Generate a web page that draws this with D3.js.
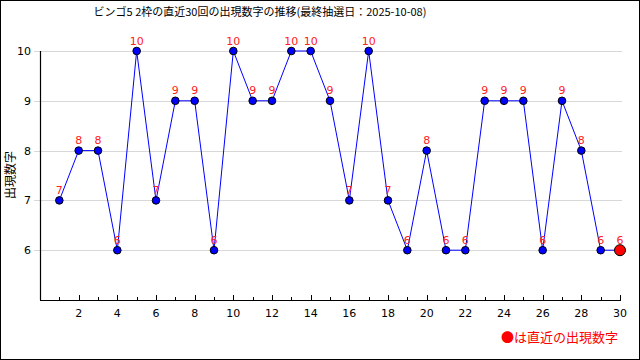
<!DOCTYPE html>
<meta charset="utf-8">
<title>bingo5</title>
<script src="https://cdn.jsdelivr.net/npm/d3@7"></script>
<style>
body { margin: 0; background: #fff; }
text { font-family: "DejaVu Sans", sans-serif; }
.jp { font-family: "Noto Sans CJK JP", sans-serif; }
</style>
<body>
<script>

// data
var draws = d3.range(1, 31);
var values = [7, 8, 8, 6, 10, 7, 9, 9, 6, 10, 9, 9, 10, 10, 9, 7, 10, 7, 6, 8, 6, 6, 9, 9, 9, 6, 9, 8, 6, 6];
var yTicks = [6, 7, 8, 9, 10];
var xTicks = [2, 4, 6, 8, 10, 12, 14, 16, 18, 20, 22, 24, 26, 28, 30];
var title = "ビンゴ5 2枠の直近30回の出現数字の推移(最終抽選日：2025-10-08)";

var width = 640, height = 360;

var svg = d3.select("body").append("svg")
    .attr("width", width)
    .attr("height", height);

// frame
svg.append("rect")
    .attr("x", 0.5).attr("y", 0.5)
    .attr("width", width - 1).attr("height", height - 1)
    .attr("fill", "#fff").attr("stroke", "#000");

var x = d3.scaleLinear().domain([0, 30]).range([40, 620]);
var y = d3.scaleLinear().domain([5, 10]).range([300, 51]);

// grid
svg.append("g").selectAll("line")
    .data(yTicks)
  .enter().append("line")
    .attr("x1", 34).attr("x2", 622)
    .attr("y1", function(d){ return Math.round(y(d)) + 0.5; })
    .attr("y2", function(d){ return Math.round(y(d)) + 0.5; })
    .attr("stroke", "#d8d8d8");

// y labels
svg.append("g").selectAll("text")
    .data(yTicks)
  .enter().append("text")
    .attr("x", 31)
    .attr("y", function(d){ return y(d) + 4; })
    .attr("text-anchor", "end")
    .attr("font-size", "11px")
    .text(function(d){ return d; });

// axes lines
svg.append("line")
    .attr("x1", 40.5).attr("x2", 40.5)
    .attr("y1", 51).attr("y2", 300)
    .attr("stroke", "#000").attr("stroke-width", 1.2);
svg.append("line")
    .attr("x1", 40).attr("x2", 621)
    .attr("y1", 300.5).attr("y2", 300.5)
    .attr("stroke", "#000").attr("stroke-width", 1.2);

// x ticks
svg.append("g").selectAll("line")
    .data(draws)
  .enter().append("line")
    .attr("x1", function(d){ return Math.round(x(d)) + 0.5; })
    .attr("x2", function(d){ return Math.round(x(d)) + 0.5; })
    .attr("y1", function(d){ return d % 2 == 0 ? 295 : 297; })
    .attr("y2", 300)
    .attr("stroke", "#000");

svg.append("g").selectAll("text")
    .data(xTicks)
  .enter().append("text")
    .attr("x", function(d){ return x(d); })
    .attr("y", 317)
    .attr("text-anchor", "middle")
    .attr("font-size", "11px")
    .text(function(d){ return d; });

// y title
svg.append("text")
    .attr("class", "jp")
    .attr("transform", "translate(15,175) rotate(-90)")
    .attr("text-anchor", "middle")
    .attr("font-size", "12px")
    .text("出現数字");

// title
svg.append("text")
    .attr("class", "jp")
    .attr("x", 260)
    .attr("y", 16)
    .attr("text-anchor", "middle")
    .attr("font-size", "11px")
    .text(title);

// line
var line = d3.line()
    .x(function(d, i){ return x(draws[i]); })
    .y(function(d){ return y(d); });

svg.append("path")
    .datum(values)
    .attr("d", line)
    .attr("fill", "none")
    .attr("stroke", "#0000ff")
    .attr("stroke-width", 1);

// value labels
svg.append("g").selectAll("text")
    .data(values)
  .enter().append("text")
    .attr("x", function(d, i){ return x(draws[i]); })
    .attr("y", function(d){ return y(d) - 6.5; })
    .attr("text-anchor", "middle")
    .attr("font-size", "11px")
    .attr("fill", "#ff2020")
    .text(function(d){ return d; });

// points
svg.append("g").selectAll("circle")
    .data(values)
  .enter().append("circle")
    .attr("cx", function(d, i){ return x(draws[i]); })
    .attr("cy", function(d){ return y(d); })
    .attr("r", function(d, i){ return i == values.length - 1 ? 5.5 : 3.8; })
    .attr("fill", function(d, i){ return i == values.length - 1 ? "#ff0000" : "#0000ff"; })
    .attr("stroke", "#000")
    .attr("stroke-width", 1);

// legend
svg.append("text")
    .attr("class", "jp")
    .attr("x", 618)
    .attr("y", 342)
    .attr("text-anchor", "end")
    .attr("font-size", "13px")
    .attr("fill", "#ff0000")
    .text("●は直近の出現数字");

</script>
</body>
</html>
